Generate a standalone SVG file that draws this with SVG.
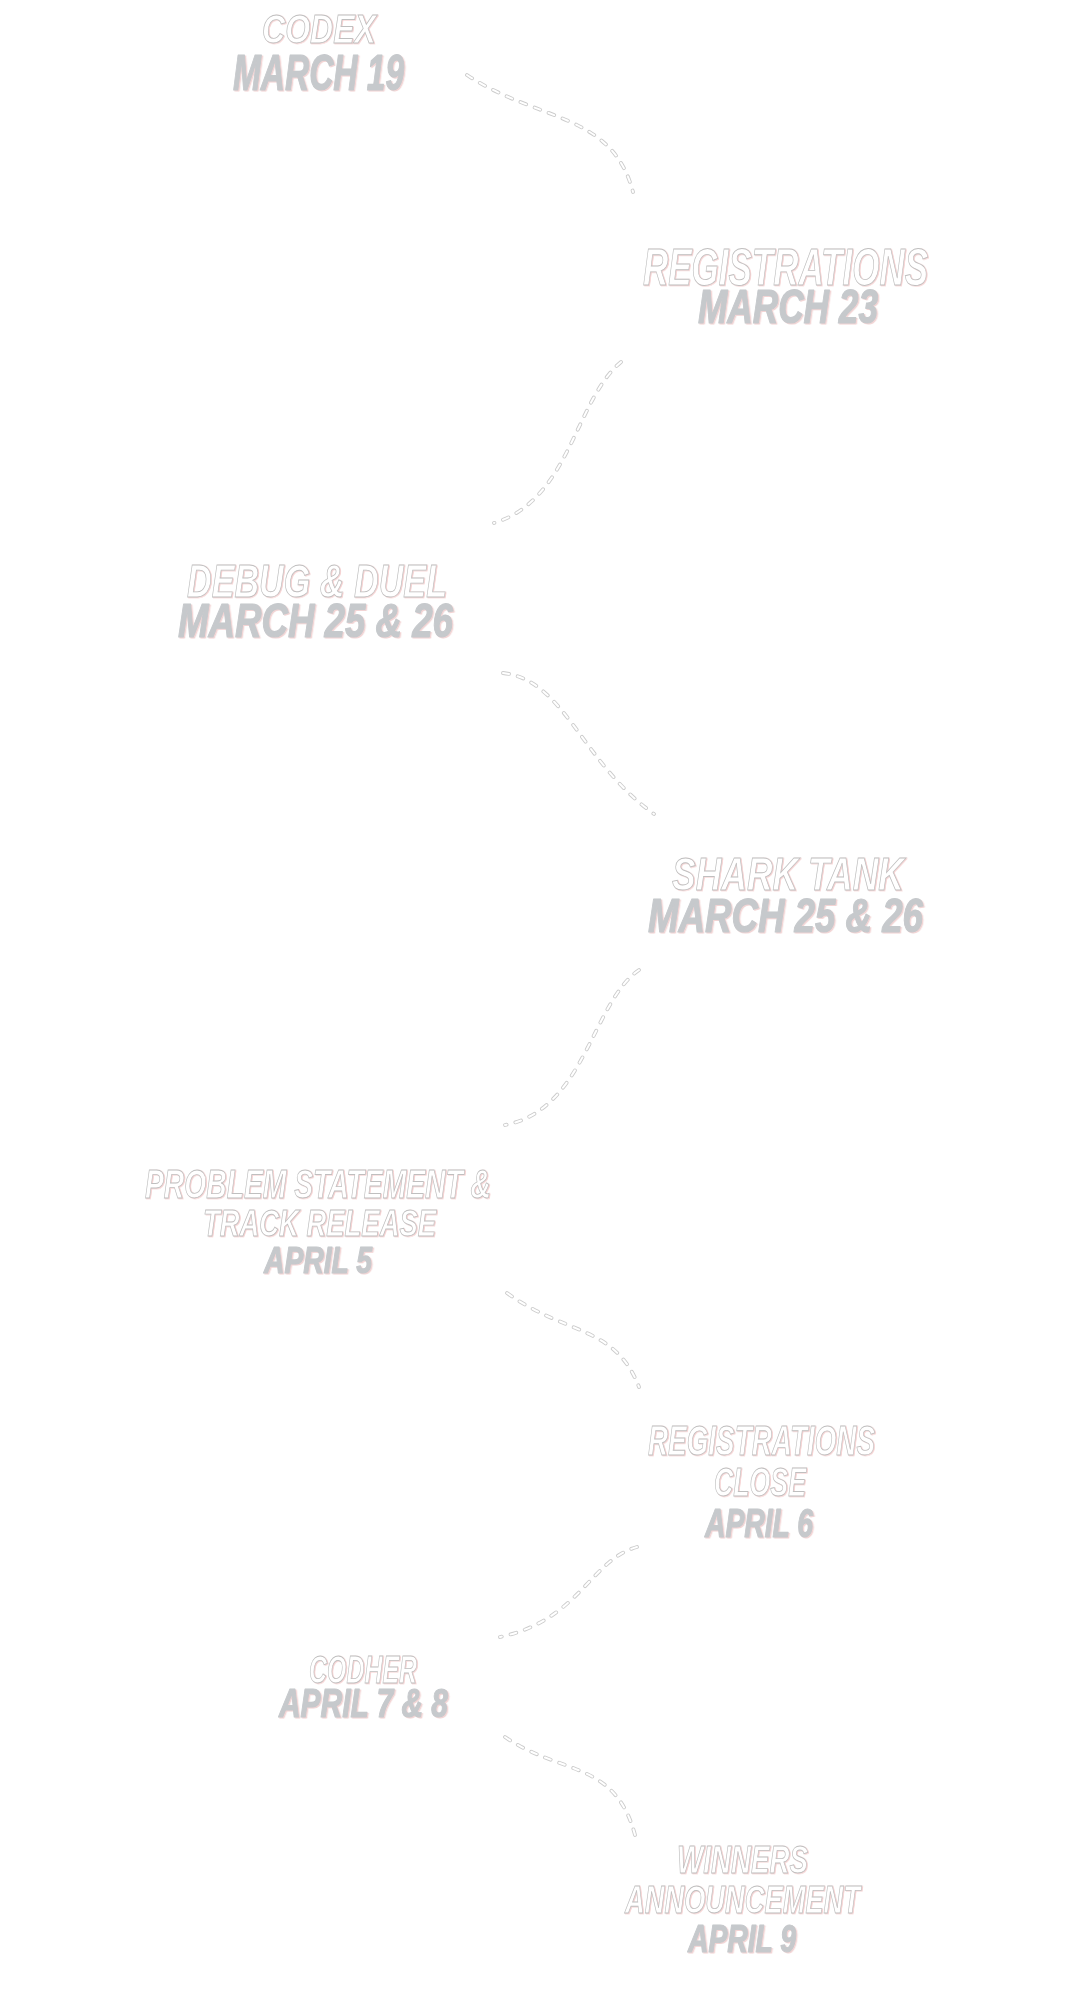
<svg xmlns="http://www.w3.org/2000/svg" width="1080" height="2000" viewBox="0 0 1080 2000">
<defs>
<filter id="pinkT" x="-5%" y="-20%" width="110%" height="140%">
<feDropShadow dx="1" dy="0.6" stdDeviation="0" flood-color="#eeb0b0" flood-opacity="0.6"/>
</filter>
<filter id="pinkD" x="-5%" y="-20%" width="110%" height="140%">
<feDropShadow dx="1.3" dy="1" stdDeviation="0" flood-color="#e9b7b7" flood-opacity="0.6"/>
</filter>
</defs>
<style>
text{font-family:"Liberation Sans Narrow","Liberation Sans","DejaVu Sans Condensed",sans-serif;font-weight:bold;font-style:italic;}
.t{fill:#ffffff;stroke:#bfbfbf;stroke-width:0.9;filter:url(#pinkT);}
.d{fill:#c6c9cc;stroke:#c6c9cc;stroke-width:1.2;stroke-linejoin:round;filter:url(#pinkD);}
.c1{fill:none;stroke:#cccccc;stroke-width:3.8;stroke-dasharray:6 9;stroke-linecap:round;}
.c2{fill:none;stroke:#ffffff;stroke-width:2;stroke-dasharray:6 9;stroke-linecap:round;}
</style>
<rect width="1080" height="2000" fill="#ffffff"/>
<g id="connectors">
<path class="c1" d="M467,75 C538,122 612,112 633,192"/>
<path class="c2" d="M467,75 C538,122 612,112 633,192"/>
<path class="c1" d="M621,362 C575,400 570,500 494,523"/>
<path class="c2" d="M621,362 C575,400 570,500 494,523"/>
<path class="c1" d="M503,673 C565,680 581,762 654,814"/>
<path class="c2" d="M503,673 C565,680 581,762 654,814"/>
<path class="c1" d="M639,970 C592,1002 585,1110 505,1125"/>
<path class="c2" d="M639,970 C592,1002 585,1110 505,1125"/>
<path class="c1" d="M507,1293 C565,1335 615,1325 639,1387"/>
<path class="c2" d="M507,1293 C565,1335 615,1325 639,1387"/>
<path class="c1" d="M637,1547 C590,1560 580,1620 500,1637"/>
<path class="c2" d="M637,1547 C590,1560 580,1620 500,1637"/>
<path class="c1" d="M505,1737 C560,1775 615,1760 635,1835"/>
<path class="c2" d="M505,1737 C560,1775 615,1760 635,1835"/>
</g>
<g id="node-codex">
<text class="t" x="262" y="43" font-size="40.5" textLength="114" lengthAdjust="spacingAndGlyphs">CODEX</text>
<text class="d" x="233" y="90" font-size="50" textLength="171" lengthAdjust="spacingAndGlyphs">MARCH 19</text>
</g>
<g id="node-registrations">
<text class="t" x="643" y="285" font-size="52" textLength="285" lengthAdjust="spacingAndGlyphs">REGISTRATIONS</text>
<text class="d" x="698" y="323" font-size="49" textLength="180" lengthAdjust="spacingAndGlyphs">MARCH 23</text>
</g>
<g id="node-debug-duel">
<text class="t" x="187" y="597" font-size="47" textLength="260" lengthAdjust="spacingAndGlyphs">DEBUG &amp; DUEL</text>
<text class="d" x="178" y="637" font-size="49" textLength="275" lengthAdjust="spacingAndGlyphs">MARCH 25 &amp; 26</text>
</g>
<g id="node-shark-tank">
<text class="t" x="672" y="890" font-size="46" textLength="232" lengthAdjust="spacingAndGlyphs">SHARK TANK</text>
<text class="d" x="648" y="932" font-size="49" textLength="275" lengthAdjust="spacingAndGlyphs">MARCH 25 &amp; 26</text>
</g>
<g id="node-problem-statement">
<text class="t" x="145" y="1198" font-size="40" textLength="346" lengthAdjust="spacingAndGlyphs">PROBLEM STATEMENT &amp;</text>
<text class="t" x="203" y="1236" font-size="36" textLength="233" lengthAdjust="spacingAndGlyphs">TRACK RELEASE</text>
<text class="d" x="264" y="1273" font-size="36" textLength="108" lengthAdjust="spacingAndGlyphs">APRIL 5</text>
</g>
<g id="node-registrations-close">
<text class="t" x="648" y="1455" font-size="42" textLength="227" lengthAdjust="spacingAndGlyphs">REGISTRATIONS</text>
<text class="t" x="714" y="1496" font-size="40" textLength="92" lengthAdjust="spacingAndGlyphs">CLOSE</text>
<text class="d" x="705" y="1537" font-size="40" textLength="108" lengthAdjust="spacingAndGlyphs">APRIL 6</text>
</g>
<g id="node-codher">
<text class="t" x="309" y="1683" font-size="39" textLength="108" lengthAdjust="spacingAndGlyphs">CODHER</text>
<text class="d" x="279" y="1717" font-size="40" textLength="169" lengthAdjust="spacingAndGlyphs">APRIL 7 &amp; 8</text>
</g>
<g id="node-winners">
<text class="t" x="677" y="1873" font-size="39" textLength="131" lengthAdjust="spacingAndGlyphs">WINNERS</text>
<text class="t" x="625" y="1913" font-size="39" textLength="235" lengthAdjust="spacingAndGlyphs">ANNOUNCEMENT</text>
<text class="d" x="688" y="1952" font-size="38" textLength="108" lengthAdjust="spacingAndGlyphs">APRIL 9</text>
</g>
</svg>
